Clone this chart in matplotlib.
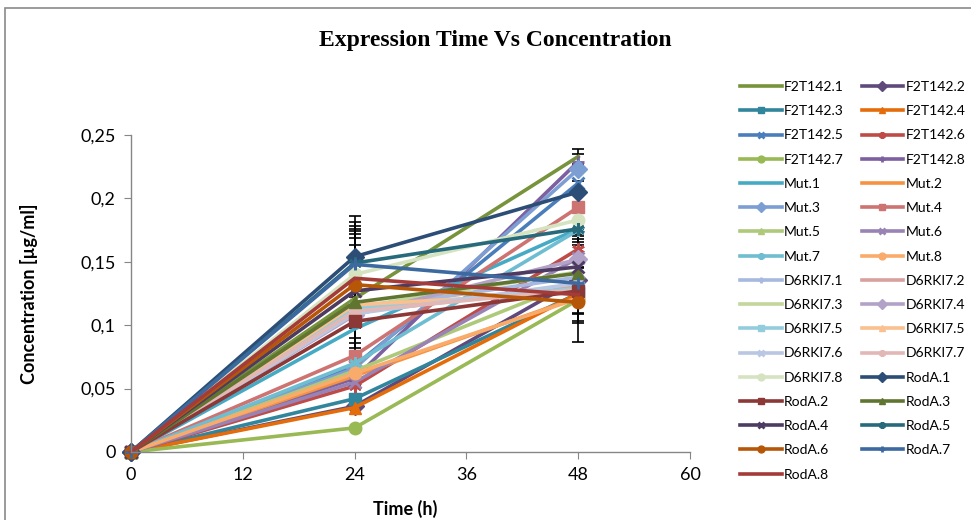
# -*- coding: utf-8 -*-
# Expression time vs concentration, all constructs in one chart
import numpy as np
import matplotlib.pyplot as plt
from matplotlib.patches import Rectangle

# TIME POINTS [h]
t = [0, 24, 48]

# SERIES NAMES
names = ['F2T142.1', 'F2T142.2', 'F2T142.3', 'F2T142.4', 'F2T142.5', 'F2T142.6',
         'F2T142.7', 'F2T142.8', 'Mut.1', 'Mut.2', 'Mut.3', 'Mut.4', 'Mut.5',
         'Mut.6', 'Mut.7', 'Mut.8', 'D6RKI7.1', 'D6RKI7.2', 'D6RKI7.3',
         'D6RKI7.4', 'D6RKI7.5', 'D6RKI7.5', 'D6RKI7.6', 'D6RKI7.7', 'D6RKI7.8',
         'RodA.1', 'RodA.2', 'RodA.3', 'RodA.4', 'RodA.5', 'RodA.6', 'RodA.7',
         'RodA.8']

# CONCENTRATION [ug/ml] AT 24 h AND 48 h (0 h is 0 for all)
c24 = [0.121, 0.036, 0.042, 0.035, 0.068, 0.052, 0.019, 0.058,
       0.097, 0.060, 0.066, 0.076, 0.064, 0.055, 0.070, 0.062,
       0.112, 0.110, 0.114, 0.108, 0.113, 0.116, 0.109, 0.111, 0.140,
       0.154, 0.103, 0.118, 0.127, 0.149, 0.132, 0.148, 0.137]
c48 = [0.233, 0.136, 0.125, 0.125, 0.212, 0.160, 0.120, 0.229,
       0.176, 0.122, 0.223, 0.193, 0.135, 0.153, 0.175, 0.121,
       0.138, 0.130, 0.142, 0.152, 0.129, 0.126, 0.133, 0.128, 0.183,
       0.205, 0.127, 0.141, 0.146, 0.176, 0.118, 0.133, 0.124]

# STANDARD DEVIATIONS AT 24 h AND 48 h
sd24 = [0.042, 0, 0, 0, 0, 0, 0, 0,
        0, 0, 0, 0, 0, 0, 0, 0,
        0, 0, 0, 0, 0, 0, 0, 0, 0.029,
        0.032, 0, 0.032, 0.045, 0.032, 0.042, 0.030, 0.039]
sd48 = [0.006, 0, 0, 0, 0, 0.008, 0, 0.006,
        0, 0, 0, 0, 0, 0.017, 0, 0,
        0, 0, 0, 0, 0, 0, 0, 0, 0,
        0.009, 0.018, 0.031, 0.020, 0, 0.031, 0.030, 0.022]

colors = ['#77933C', '#604A7B', '#31859C', '#E46C0A', '#4A7EBB', '#BE4B48',
          '#98B954', '#7D60A0', '#46AAC5', '#F69240', '#7C9ED2', '#CD7371',
          '#AFC97A', '#9982B4', '#6FBDD1', '#F9AB6B', '#A7B9E0', '#D8A09E',
          '#C3D69B', '#B3A2C7', '#93CDDD', '#FAC090', '#B9C7E2', '#E2B8B7',
          '#D5E3C0', '#2C4D75', '#8C3836', '#5F7530', '#4D3B62', '#276A7C',
          '#B65708', '#3C69A0', '#A33B39']

star = (6, 2, 0)
markers = ['None', 'D', 's', '^', 'x', star, 'o', '+',
           'None', 'None', 'D', 's', '^', 'x', star, 'o',
           '+', 'None', 'None', 'D', 's', '^', 'x', star, 'o',
           'D', 's', '^', 'x', star, 'o', '+', 'None']

plt.rcParams['font.family'] = ['Lato', 'DejaVu Sans']

fig = plt.figure(figsize=(9.71, 5.2), dpi=100)
ax = fig.add_axes([0.1349, 0.1308, 0.5757, 0.6096])

# chart border
fig.patches.append(Rectangle((5 / 971, -0.05), 1.1, 1 - 8 / 520 + 0.05,
                             transform=fig.transFigure, fill=False,
                             edgecolor='#8A8A8A', linewidth=1.2))

handles = []
for i, name in enumerate(names):
    y = [0, c24[i], c48[i]]
    err = [0, sd24[i], sd48[i]]
    if sd24[i] or sd48[i]:
        ax.errorbar(t, y, yerr=err, fmt='none', ecolor='black',
                    elinewidth=1.2, capsize=4, capthick=1.2, zorder=1,
                    clip_on=False)
    mk = markers[i]
    mew = 2 if mk in ('x', '+', star) else 1
    line, = ax.plot(t, y, color=colors[i], linewidth=2.6, marker=mk,
                    markersize=9, markeredgewidth=mew, markeredgecolor=colors[i],
                    clip_on=False, zorder=2, label=name)
    handles.append(line)

ax.set_xlim(0, 60)
ax.set_ylim(0, 0.25)
ax.set_xticks([0, 12, 24, 36, 48, 60])
ax.set_yticks([0, 0.05, 0.1, 0.15, 0.2, 0.25])
ax.set_yticklabels(['0', '0,05', '0,1', '0,15', '0,2', '0,25'])
for s in ['top', 'right']:
    ax.spines[s].set_visible(False)
for s in ['left', 'bottom']:
    ax.spines[s].set_color('#868686')
    ax.spines[s].set_linewidth(1)
ax.tick_params(axis='both', which='major', labelsize=13, color='#868686',
               length=5, direction='out', pad=6)
ax.xaxis.set_label_text('Time (h)', fontsize=13, fontweight='bold')
ax.yaxis.set_label_text('Concentration [µg/ml]', fontsize=13, fontweight='bold')
ax.yaxis.set_label_coords(-0.166, 0.5)
ax.xaxis.set_label_coords(0.49, -0.152)

fig.text(0.51, 0.923, 'Expression Time Vs Concentration', ha='center', va='center',
         fontsize=17, fontweight='bold', family='Liberation Serif')

# legend filled row by row
order = list(range(0, len(handles), 2)) + list(range(1, len(handles), 2))
fig.legend([handles[k] for k in order], [names[k] for k in order], ncol=2,
           loc='upper left', bbox_to_anchor=(0.7563, 0.855), frameon=False,
           fontsize=10, handlelength=3.0, handletextpad=0.15, columnspacing=1.3,
           labelspacing=0.88, markerscale=0.55, borderaxespad=0)

plt.savefig('out.png', dpi=100)
